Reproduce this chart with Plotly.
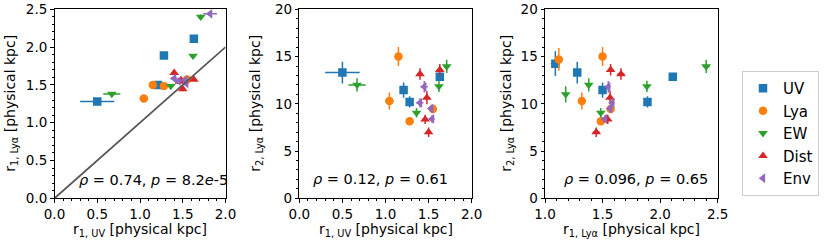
import plotly.graph_objects as go

categories = ["UV", "Lya", "EW", "Dist", "Env"]
colors = ["#1f77b4", "#ff7f0e", "#2ca02c", "#d62728", "#9467bd"]
symbols = ["square", "circle", "triangle-down", "triangle-up", "triangle-left"]

# r1 (UV), r1 (Lya), r2 (Lya) per category, with errors
r1_uv = {
    "UV":   [0.50, 1.21, 1.28, 1.63, None],
    "Lya":  [1.15, 1.045, 1.28, 1.55, None],
    "EW":   [0.67, 1.36, 1.62, 1.71, None],
    "Dist": [1.40, 1.63, 1.48, 1.46, 1.50],
    "Env":  [1.82, 1.45, 1.40, 1.53, 1.54],
}
r1_uv_err = {
    "UV":   [0.20, 0.04, 0.03, 0.03, 0.0],
    "Lya":  [0.03, 0.05, 0.03, 0.03, 0.0],
    "EW":   [0.10, 0.03, 0.03, 0.03, 0.0],
    "Dist": [0.03, 0.03, 0.03, 0.03, 0.03],
    "Env":  [0.08, 0.04, 0.04, 0.03, 0.03],
}
r1_lya = {
    "UV":   [1.28, 1.50, 1.89, 2.11, 1.09],
    "Lya":  [1.50, 1.32, 1.485, 1.57, 1.12],
    "EW":   [1.38, 1.485, 1.885, 2.40, 1.18],
    "Dist": [1.66, 1.57, 1.565, 1.545, 1.445],
    "Env":  [2.44, 1.55, 1.585, 1.565, 1.52],
}
r1_lya_err = {
    "UV":   [0.02, 0.03, 0.03, 0.03, 0.04],
    "Lya":  [0.02, 0.02, 0.02, 0.02, 0.03],
    "EW":   [0.02, 0.02, 0.02, 0.03, 0.02],
    "Dist": [0.03, 0.02, 0.02, 0.02, 0.03],
    "Env":  [0.03, 0.02, 0.02, 0.02, 0.02],
}
r2_lya = {
    "UV":   [13.3, 11.45, 10.2, 12.85, 14.25],
    "Lya":  [15.0, 10.3, 8.15, 9.45, 14.7],
    "EW":   [12.0, 9.05, 11.85, 13.95, 11.0],
    "Dist": [13.15, 13.6, 10.65, 8.35, 7.0],
    "Env":  [None, 11.8, 10.1, 9.5, 8.4],
}
r2_lya_err = {
    "UV":   [1.15, 0.8, 0.6, 0.4, 1.3],
    "Lya":  [1.0, 0.9, 0.4, 0.3, 1.2],
    "EW":   [0.7, 0.5, 0.6, 0.7, 0.85],
    "Dist": [0.6, 0.6, 0.7, 0.5, 0.5],
    "Env":  [0.0, 0.6, 0.5, 0.4, 0.4],
}
stats_text = [
    "<i>ρ</i> = 0.74, <i>p</i> = 8.2<i>e</i>-5",
    "<i>ρ</i> = 0.12, <i>p</i> = 0.61",
    "<i>ρ</i> = 0.096, <i>p</i> = 0.65",
]
diag = [0.0, 2.0]

W, H = 831, 244
FONT = "DejaVu Sans"
fig = go.Figure()

panels = [
    ("x", "y", r1_uv, r1_uv_err, r1_lya, r1_lya_err),
    ("x2", "y2", r1_uv, r1_uv_err, r2_lya, r2_lya_err),
    ("x3", "y3", r1_lya, r1_lya_err, r2_lya, r2_lya_err),
]
for pi, (xa, ya, X, XE, Y, YE) in enumerate(panels):
    for ci, cat in enumerate(categories):
        fig.add_trace(go.Scatter(
            x=X[cat], y=Y[cat], xaxis=xa, yaxis=ya, mode="markers",
            name=cat, legendgroup=cat, showlegend=(pi == 0),
            marker=dict(symbol=symbols[ci], color=colors[ci], size=8.5, line=dict(width=0)),
            error_x=dict(type="data", array=XE[cat], color=colors[ci], thickness=1.5, width=0),
            error_y=dict(type="data", array=YE[cat], color=colors[ci], thickness=1.5, width=0),
            cliponaxis=True,
        ))

fig.add_trace(go.Scatter(x=diag, y=diag, xaxis="x", yaxis="y", mode="lines",
                         line=dict(color="#555555", width=1.7), showlegend=False,
                         hoverinfo="skip"))

def px(xp):
    return xp / W

def py(yp):
    return 1 - yp / H

ytop, ybot = 9.3, 198.3
xdoms = [(54.5, 225.5), (299.3, 471.7), (545.0, 717.7)]
xranges = [[0, 2], [0, 2], [1, 2.5]]
yranges = [[0, 2.5], [0, 20], [0, 20]]
xtitles = ["r<sub>1, UV</sub> [physical kpc]", "r<sub>1, UV</sub> [physical kpc]",
           "r<sub>1, Lyα</sub> [physical kpc]"]
ytitles = ["r<sub>1, Lyα</sub> [physical kpc]", "r<sub>2, Lyα</sub> [physical kpc]",
           "r<sub>2, Lyα</sub> [physical kpc]"]
ytitle_x = [11, 256, 507]
xtitle_y = 230
xdt = [0.5, 0.5, 0.5]
ydt = [0.5, 5, 5]
xminor = [0.1, 0.1, 0.1]
yminor = [0.1, 1, 1]
yfmt = [".1f", "d", "d"]

axis_common = dict(showline=True, linecolor="black", linewidth=1, mirror=True,
                   ticks="outside", ticklen=3.5, tickwidth=1, tickcolor="black",
                   showgrid=False, zeroline=False, automargin=False,
                   tickfont=dict(family=FONT, size=13.5, color="black"))
layout = {}
for i in range(3):
    s = "" if i == 0 else str(i + 1)
    layout["xaxis" + s] = dict(axis_common, domain=[px(xdoms[i][0]), px(xdoms[i][1])],
                               range=xranges[i], dtick=xdt[i], tick0=0, tickformat=".1f",
                               anchor="y" + s,
                               minor=dict(ticks="outside", dtick=xminor[i], ticklen=2,
                                          tickcolor="black", showgrid=False))
    layout["yaxis" + s] = dict(axis_common, domain=[py(ybot), py(ytop)],
                               range=yranges[i], dtick=ydt[i], tick0=0, tickformat=yfmt[i],
                               anchor="x" + s,
                               minor=dict(ticks="outside", dtick=yminor[i], ticklen=2,
                                          tickcolor="black", showgrid=False))

ann_pos = [(153, 180), (380, 179), (636, 179)]
annotations = []
for i in range(3):
    annotations.append(dict(text=stats_text[i], xref="paper", yref="paper",
                            x=px(ann_pos[i][0]), y=py(ann_pos[i][1]),
                            xanchor="center", yanchor="middle", showarrow=False,
                            font=dict(family=FONT, size=14.5, color="black")))
    xc = (xdoms[i][0] + xdoms[i][1]) / 2
    annotations.append(dict(text=xtitles[i], xref="paper", yref="paper",
                            x=px(xc), y=py(xtitle_y), xanchor="center", yanchor="middle",
                            showarrow=False, font=dict(family=FONT, size=14, color="black")))
    annotations.append(dict(text=ytitles[i], xref="paper", yref="paper",
                            x=px(ytitle_x[i]), y=py((ytop + ybot) / 2), textangle=-90,
                            xanchor="center", yanchor="middle",
                            showarrow=False, font=dict(family=FONT, size=14, color="black")))

fig.update_layout(
    width=W, height=H, margin=dict(l=0, r=0, t=0, b=0),
    paper_bgcolor="white", plot_bgcolor="white",
    font=dict(family=FONT, size=14, color="black"),
    annotations=annotations,
    legend=dict(x=px(742), y=py(71), xanchor="left", yanchor="top",
                bordercolor="#cccccc", borderwidth=1, bgcolor="white",
                font=dict(family=FONT, size=15, color="black"),
                tracegroupgap=0),
    showlegend=True,
    **layout,
)
fig.write_html("out.html", config={"displayModeBar": False},
               post_script="document.body.style.margin='0';document.body.style.overflow='hidden';")
